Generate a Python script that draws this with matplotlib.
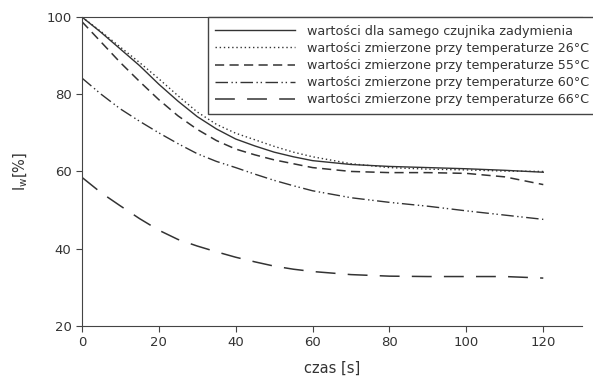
import matplotlib
matplotlib.use("Agg")
import matplotlib.pyplot as plt

# time axis [s]
czas = [0, 5, 10, 15, 20, 25, 30, 35, 40, 45, 50, 55, 60, 70, 80, 90, 100, 110, 120]

# I_w [%]
czujnik = [100, 96, 91.7, 87.4, 82.6, 78.2, 74.2, 71, 68.4, 66.6, 65, 63.8, 62.8,
           61.8, 61.3, 61, 60.7, 60.3, 59.8]
t26 = [100, 96.2, 92.2, 88.2, 84, 79.6, 75.4, 72.2, 69.9, 68.2, 66.5, 65, 63.8,
       62, 61, 60.6, 60.4, 60.1, 60]
t55 = [98.8, 93.5, 88.2, 83.3, 78.6, 74.4, 70.9, 68, 65.8, 64.3, 63, 62, 61,
       60, 59.7, 59.7, 59.5, 58.6, 56.6]
t60 = [84.2, 80, 76.2, 73, 70, 67.2, 64.6, 62.6, 61, 59.3, 57.7, 56.3, 55,
       53.2, 52, 51, 49.8, 48.7, 47.6]
t66 = [58.5, 54.5, 51.1, 47.8, 44.8, 42.4, 40.7, 39.2, 37.8, 36.6, 35.5, 34.7, 34.1,
       33.3, 32.9, 32.8, 32.8, 32.8, 32.4]

etykiety = [
    "wartości dla samego czujnika zadymienia",
    "wartości zmierzone przy temperaturze 26°C",
    "wartości zmierzone przy temperaturze 55°C",
    "wartości zmierzone przy temperaturze 60°C",
    "wartości zmierzone przy temperaturze 66°C",
]

kolor = "#333333"
plt.rcParams["font.family"] = "DejaVu Sans"

fig = plt.figure(figsize=(5.93, 3.76), dpi=100)
ax = fig.add_axes([0.138, 0.133, 0.843, 0.822])

ax.plot(czas, czujnik, color=kolor, lw=1.0, linestyle="-", label=etykiety[0])
ax.plot(czas, t26, color=kolor, lw=1.0, linestyle=(0, (1, 2)), label=etykiety[1])
ax.plot(czas, t55, color=kolor, lw=1.1, linestyle=(0, (6, 3.5)), label=etykiety[2])
ax.plot(czas, t60, color=kolor, lw=1.0, linestyle=(0, (9, 2.5, 1, 2, 1, 2.5)), label=etykiety[3])
ax.plot(czas, t66, color=kolor, lw=1.1, linestyle=(0, (13, 8)), label=etykiety[4])

ax.set_xlim(0, 130)
ax.set_ylim(20, 100)
ax.set_xticks([0, 20, 40, 60, 80, 100, 120])
ax.set_yticks([20, 40, 60, 80, 100])
ax.spines["right"].set_visible(False)
for s in ("left", "bottom", "top"):
    ax.spines[s].set_color("#444444")
ax.tick_params(colors="#444444", labelcolor=kolor, labelsize=9.5, length=4, direction="out")
ax.tick_params(axis="x", top=False)

ax.set_xlabel("czas [s]", fontsize=10.5, color=kolor, labelpad=8)
ax.set_ylabel("I$_\\mathrm{w}$[%]", fontsize=10.5, color=kolor, labelpad=12)

leg = ax.legend(loc="upper left", bbox_to_anchor=(0.252, 1.0), fontsize=9.2,
                handlelength=6.2, handletextpad=1.0, labelspacing=0.33,
                borderpad=0.6, borderaxespad=0, fancybox=False, framealpha=1,
                edgecolor="#444444")
leg.get_frame().set_linewidth(1.0)
for t in leg.get_texts():
    t.set_color(kolor)

fig.savefig("out.png", dpi=100)
